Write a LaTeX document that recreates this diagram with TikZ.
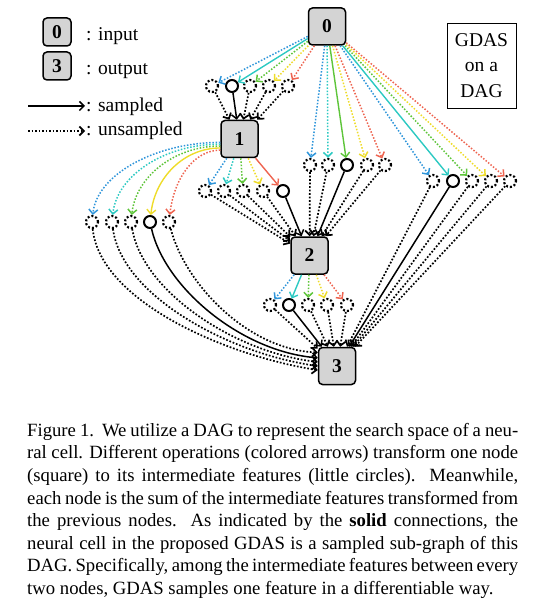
\documentclass[tikz,border=0pt]{standalone}
\usepackage{fontspec}
\setmainfont{Liberation Serif}
\usetikzlibrary{arrows.meta,calc}
\definecolor{cB}{HTML}{2E95DA}
\definecolor{cC}{HTML}{2CC9C2}
\definecolor{cG}{HTML}{5EC53A}
\definecolor{cY}{HTML}{EEDC2A}
\definecolor{cR}{HTML}{EE6450}
\definecolor{boxgray}{HTML}{D4D4D4}
\tikzset{
  bigbox/.style={draw, line width=1.5pt, rounded corners=4pt, fill=boxgray, minimum size=37pt, inner sep=0pt, font=\fontsize{19.5}{20}\selectfont\bfseries},
  legbox/.style={bigbox, minimum size=28pt},
  lbl/.style={inner sep=0pt, font=\fontsize{19.5}{22}\selectfont},
  feat/.style={circle, minimum size=12pt, inner sep=0pt, line width=2pt, draw},
  sfeat/.style={feat},
  ufeat/.style={feat, line width=2.2pt, dash pattern=on 2pt off 2pt},
  op/.style={line width=1.4pt, -{Straight Barb[length=4.5pt,width=9pt]}},
  uop/.style={op, line width=1.5pt, dash pattern=on 1.5pt off 1.7pt},
  agg/.style={line width=1.5pt, black, -{Straight Barb[length=4.5pt,width=9pt]}},
  uagg/.style={agg, line width=1.7pt, dash pattern=on 1.7pt off 1.8pt},
}
\begin{document}
\begin{tikzpicture}[x=1pt,y=-1pt]
\useasboundingbox (0,0) rectangle (548,612);

% legend
\node[legbox] (L0) at (57,32) {0};
\node[legbox] (L3) at (57,66) {3};
\node[lbl, anchor=base west] (tin) at (86,41) {: input};
\node[lbl, anchor=base west] (tout) at (86,75) {: output};
\coordinate (sa) at (28,106);
\coordinate (sb) at (85,106);
\coordinate (ua) at (28,131);
\coordinate (ub) at (85,131);
\draw[agg] (sa) -- (sb);
\draw[uagg] (ua) -- (ub);
\node[lbl, anchor=base west] (tsam) at (86,112) {: sampled};
\node[lbl, anchor=base west] (tuns) at (86,136) {: unsampled};

% GDAS box
\node[draw, line width=0.8pt, minimum width=69pt, minimum height=85pt, inner sep=0pt, align=center, font=\fontsize{19.5}{25.5}\selectfont] (gd) at (481.5,65.5) {GDAS\\on a\\DAG};

% main nodes
\node[bigbox] (n0) at (327,26.5) {0};
\node[bigbox] (n1) at (239.5,139) {1};
\node[bigbox] (n2) at (309.5,255.5) {2};
\node[bigbox] (n3) at (337,366) {3};

% intermediate features
\foreach \n/\x/\s in {1/212/ufeat,2/232/sfeat,3/250/ufeat,4/269/ufeat,5/288/ufeat}
  \node[\s] (a\n) at (\x,86) {};
\foreach \n/\x/\s in {1/310/ufeat,2/328/ufeat,3/347/sfeat,4/367/ufeat,5/385/ufeat}
  \node[\s] (b\n) at (\x,165) {};
\foreach \n/\x/\s in {1/433/ufeat,2/453/sfeat,3/472/ufeat,4/491/ufeat,5/510/ufeat}
  \node[\s] (c\n) at (\x,181) {};
\foreach \n/\x/\s in {1/205/ufeat,2/224/ufeat,3/243/ufeat,4/263/ufeat,5/283/sfeat}
  \node[\s] (d\n) at (\x,191) {};
\foreach \n/\x/\s in {1/92/ufeat,2/112/ufeat,3/131/ufeat,4/150/sfeat,5/169/ufeat}
  \node[\s] (e\n) at (\x,222) {};
\foreach \n/\x/\s in {1/270/ufeat,2/289/sfeat,3/308/ufeat,4/327/ufeat,5/347/ufeat}
  \node[\s] (f\n) at (\x,305) {};

% operations (colored)
\foreach \n/\c/\s in {1/cB/uop,2/cC/op,3/cG/uop,4/cY/uop,5/cR/uop}
  \draw[\s,\c] (n0) -- (a\n);
\foreach \n/\c/\s in {1/cB/uop,2/cC/uop,3/cG/op,4/cY/uop,5/cR/uop}
  \draw[\s,\c] (n0) -- (b\n);
\foreach \n/\c/\s in {1/cB/uop,2/cC/op,3/cG/uop,4/cY/uop,5/cR/uop}
  \draw[\s,\c] (n0) -- (c\n);
\foreach \n/\c/\s in {1/cB/uop,2/cC/uop,3/cG/uop,4/cY/uop,5/cR/op}
  \draw[\s,\c] (n1) -- (d\n);
\foreach \n/\c/\s/\ang/\dx/\dy in {1/cB/uop/190/64/48,2/cC/uop/195/55/47,3/cG/uop/200/45/46,4/cY/op/205/36/45,5/cR/uop/210/26/44}
  \draw[\s,\c] (n1.\ang) .. controls +(-\dx,0) and +(5,-\dy) .. (e\n);
\foreach \n/\c/\s in {1/cB/uop,2/cC/op,3/cG/uop,4/cY/uop,5/cR/uop}
  \draw[\s,\c] (n2) -- (f\n);

% aggregation (black)
\foreach \n/\s in {1/uagg,2/agg,3/uagg,4/uagg,5/uagg}
  \draw[\s] (a\n) -- (n1);
\foreach \n/\s in {1/uagg,2/uagg,3/agg,4/uagg,5/uagg}
  \draw[\s] (b\n) -- (n2);
\foreach \n/\s in {1/uagg,2/uagg,3/uagg,4/uagg,5/agg}
  \draw[\s] (d\n) -- (n2);
\foreach \n/\s in {1/uagg,2/agg,3/uagg,4/uagg,5/uagg}
  \draw[\s] (c\n) -- (n3);
\foreach \n/\s in {1/uagg,2/agg,3/uagg,4/uagg,5/uagg}
  \draw[\s] (f\n) -- (n3);
\foreach \n/\s/\ang/\ax/\ay/\bx/\by in {1/uagg/192/8/78/95/15,2/uagg/180/10/74/88/12,3/uagg/168/12/70/82/9,4/agg/157/15/66/76/6,5/uagg/145/16/62/70/3}
  \draw[\s] (e\n) .. controls +(\ax,\ay) and +(-\bx,-\by) .. (n3.\ang);

% caption
\node[anchor=north west, text width=491pt, align=justify, inner sep=0pt,
  font=\fontsize{18.7}{22.6}\selectfont] (cap) at (27,423) {%
\emergencystretch=5pt
Figure 1.\ \ We utilize a DAG to represent the search space of a neu-\linebreak
ral cell. Different operations (colored arrows) transform one node\linebreak
(square) to its intermediate features (little circles).\ \ Meanwhile,\linebreak
each node is the sum of the intermediate features transformed from\linebreak
the previous nodes.\ \ As indicated by the \textbf{solid} connections, the\linebreak
neural cell in the proposed GDAS is a sampled sub-graph of this\linebreak
DAG. Specifically, among the intermediate features between every\linebreak
two nodes, GDAS samples one feature in a differentiable way.};
\end{tikzpicture}
\end{document}
